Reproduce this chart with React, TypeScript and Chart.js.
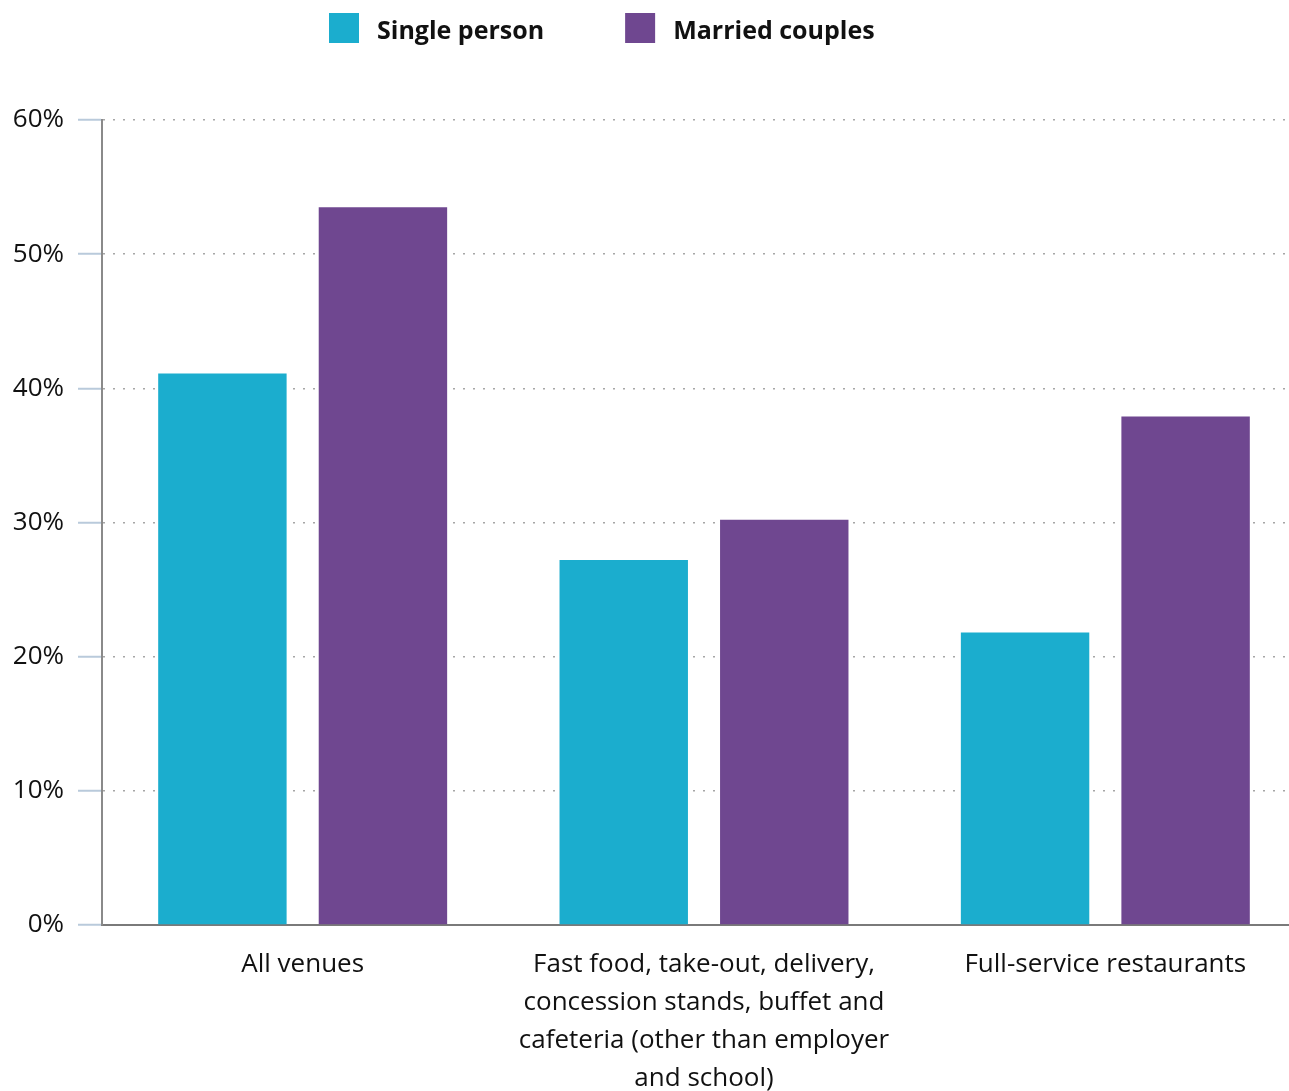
import { useEffect, useRef } from "react";
import { Chart, registerables } from "chart.js";

Chart.register(...registerables);

// Venue categories (multi-line labels are split into rows)
const categories: string[][] = [
  ["All venues"],
  [
    "Fast food, take-out, delivery,",
    "concession stands, buffet and",
    "cafeteria (other than employer",
    "and school)",
  ],
  ["Full-service restaurants"],
];

const seriesNames = ["Single person", "Married couples"];
const singlePerson = [41.1, 27.2, 21.8];
const marriedCouples = [53.5, 30.2, 37.9];
const seriesColors = ["#1badce", "#6f4790"];

const yMin = 0;
const yMax = 60;
const yStep = 10;

const FONT = "'Open Sans', 'DejaVu Sans', sans-serif";

// Legend drawn across the top of the canvas, from the datasets' own labels and colours
const topLegend = {
  id: "topLegend",
  afterDraw(chart: any, _args: any, opts: any) {
    const { ctx } = chart;
    ctx.save();
    ctx.font = `bold ${opts.fontSize}px ${FONT}`;
    ctx.textBaseline = "middle";
    ctx.textAlign = "left";
    let x = opts.x;
    chart.data.datasets.forEach((ds: any) => {
      ctx.fillStyle = ds.backgroundColor;
      ctx.fillRect(x, opts.y, opts.box, opts.box);
      const tx = x + opts.box + opts.textGap;
      ctx.fillStyle = opts.color;
      ctx.fillText(ds.label, tx, opts.y + opts.box / 2 + 4);
      x = tx + ctx.measureText(ds.label).width + opts.itemGap;
    });
    ctx.restore();
  },
};

export default function App() {
  const canvasRef = useRef<HTMLCanvasElement | null>(null);

  useEffect(() => {
    if (!canvasRef.current) return;
    const chart = new Chart(canvasRef.current, {
      type: "bar",
      data: {
        labels: categories,
        datasets: [
          {
            label: seriesNames[0],
            data: singlePerson,
            backgroundColor: seriesColors[0],
            categoryPercentage: 0.8,
            barPercentage: 0.8,
          },
          {
            label: seriesNames[1],
            data: marriedCouples,
            backgroundColor: seriesColors[1],
            categoryPercentage: 0.8,
            barPercentage: 0.8,
          },
        ],
      },
      options: {
        animation: false,
        responsive: true,
        maintainAspectRatio: false,
        layout: { padding: { top: 120, left: 0, right: 0, bottom: 0 } },
        plugins: {
          legend: { display: false },
          tooltip: { enabled: false },
          topLegend: {
            x: 329,
            y: 13,
            box: 30,
            textGap: 18,
            itemGap: 81,
            fontSize: 25,
            color: "#111111",
          },
        } as any,
        scales: {
          x: {
            grid: { display: true, drawOnChartArea: false, drawTicks: false },
            border: { display: true, color: "#7a7a7a", width: 2 },
            ticks: {
              color: "#111111",
              padding: 21,
              font: { family: FONT, size: 26, lineHeight: 1.46 },
              maxRotation: 0,
              autoSkip: false,
            },
            afterFit(scale: any) {
              scale.height = 166;
            },
          },
          y: {
            min: yMin,
            max: yMax,
            grid: {
              color: "#a6a6a6",
              lineWidth: 1.5,
              tickLength: 24,
              tickColor: "#b9cadb",
              tickWidth: 2,
            },
            border: { display: true, color: "#8a8a8a", width: 2, dash: [2, 8] },
            ticks: {
              stepSize: yStep,
              color: "#111111",
              padding: 14,
              font: { family: FONT, size: 26 },
              callback: (v: any) => `${v}%`,
            },
            afterFit(scale: any) {
              scale.width = 102;
            },
          },
        },
      },
      plugins: [topLegend],
    });
    return () => chart.destroy();
  }, []);

  return (
    <div
      style={{
        position: "fixed",
        left: 0,
        top: 0,
        width: 1289,
        height: 1091,
        overflow: "hidden",
        background: "#ffffff",
      }}
    >
      <div style={{ position: "absolute", left: 0, top: 0, width: 1306, height: 1091 }}>
        <canvas ref={canvasRef} />
      </div>
    </div>
  );
}
